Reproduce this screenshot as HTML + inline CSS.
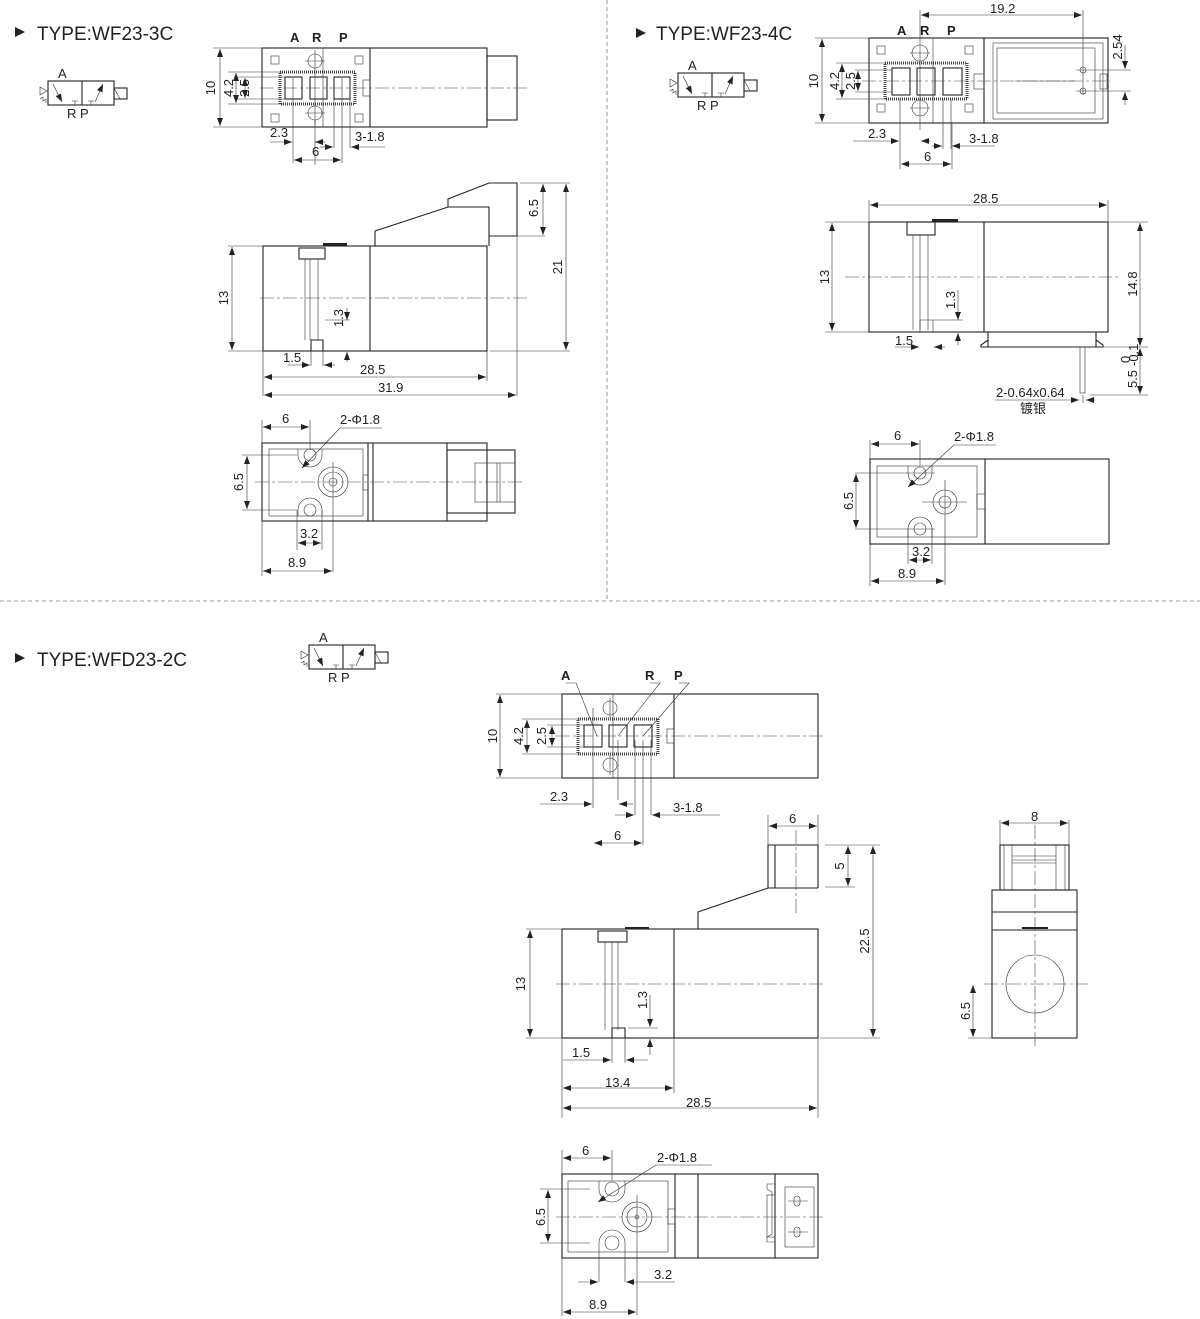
<!DOCTYPE html>
<html><head><meta charset="utf-8"><style>
html,body{margin:0;padding:0;background:#fff}
svg{display:block}
text{font-family:"Liberation Sans","Noto Sans CJK SC",sans-serif;fill:#222;font-size:13px}
.o{fill:none;stroke:#222;stroke-width:1.1}
.t{fill:none;stroke:#333;stroke-width:0.6}
.c{fill:none;stroke:#444;stroke-width:0.6;stroke-dasharray:14 3 3 3}
.d{stroke:#333;stroke-width:0.6;marker-start:url(#a);marker-end:url(#a)}
.h{fill:#fff;stroke:#444;stroke-width:3;stroke-dasharray:1 1}
.ttl{font-size:19px}
.b{font-weight:bold}
</style></head><body>
<svg width="1200" height="1319" viewBox="0 0 1200 1319" xmlns="http://www.w3.org/2000/svg">
<defs>
<marker id="a" viewBox="0 0 8 6" refX="8" refY="3" markerWidth="8" markerHeight="6" orient="auto-start-reverse" markerUnits="userSpaceOnUse"><path d="M0,0L8,3L0,6z" fill="#222"/></marker>
<g id="sym">
<rect x="48" y="81" width="66" height="24" class="o"/>
<line x1="82" y1="81" x2="82" y2="105" class="o"/>
<rect x="114" y="88" width="13" height="11" class="o"/>
<line x1="114" y1="88" x2="120" y2="99" class="t"/>
<line x1="53" y1="84" x2="62" y2="102" class="t" marker-end="url(#a)"/>
<line x1="95" y1="102" x2="103" y2="84" class="t" marker-end="url(#a)"/>
<path d="M72,101h6M75,101v4M88,101h6M91,101v4" class="t"/>
<path d="M40,87l7,4-7,4z" class="t"/>
<path d="M40,99l3,-2 0,4 3,-2 0,4" class="t"/>
<text x="58" y="78" font-size="12">A</text>
<text x="67" y="118" font-size="12">R P</text>
</g>
</defs>

<line x1="607" y1="0" x2="607" y2="600" stroke="#999" stroke-dasharray="4 3"/>
<line x1="0" y1="601" x2="1200" y2="601" stroke="#999" stroke-dasharray="4 3"/>

<path d="M15,27l10,5-10,5z" fill="#222"/>
<text x="37" y="40" class="ttl">TYPE:WF23-3C</text>
<use href="#sym"/>

<rect x="262" y="48" width="225" height="79" class="o"/>
<line x1="370" y1="48" x2="370" y2="127" class="o"/>
<rect x="487" y="56" width="30" height="64" class="o"/>
<rect x="280" y="72" width="75" height="32" class="h"/>
<rect x="285" y="77" width="17" height="22" class="o"/><rect x="310" y="77" width="17" height="22" class="o"/><rect x="334" y="77" width="16" height="22" class="o"/>
<circle cx="315" cy="61" r="7" class="t"/><circle cx="315" cy="113" r="7" class="t"/>
<path d="M305,61h20M305,113h20M315,50v75M323,48v79" class="t"/>
<rect x="271" y="56" width="8" height="8" class="t"/><rect x="355" y="56" width="8" height="8" class="t"/>
<rect x="271" y="114" width="8" height="8" class="t"/><rect x="355" y="114" width="8" height="8" class="t"/>
<rect x="363" y="80" width="7" height="16" class="t"/>
<line x1="260" y1="88" x2="530" y2="88" class="c"/>
<text x="290" y="42" class="b" font-size="12">A</text><text x="312" y="42" class="b" font-size="12">R</text><text x="339" y="42" class="b" font-size="12">P</text>
<path d="M213,48h50M213,127h50M228,72h55M228,104h55M236,77h50M236,99h50" class="t"/>
<line x1="220" y1="49" x2="220" y2="126" class="d"/>
<line x1="236" y1="73" x2="236" y2="103" class="d"/>
<line x1="245" y1="78" x2="245" y2="98" class="d"/>
<text transform="translate(215,88) rotate(-90)" text-anchor="middle">10</text>
<text transform="translate(233,88) rotate(-90)" text-anchor="middle">4.2</text>
<text transform="translate(249,88) rotate(-90)" text-anchor="middle">2.5</text>
<path d="M293,78v85M315,120v45M334,78v70M342,78v85M350,78v70" class="t"/>
<line x1="270" y1="142" x2="292" y2="142" class="t" marker-end="url(#a)"/><line x1="325" y1="142" x2="315" y2="142" class="t" marker-end="url(#a)"/>
<text x="270" y="137">2.3</text>
<line x1="320" y1="147" x2="333" y2="147" class="t" marker-end="url(#a)"/><line x1="385" y1="147" x2="351" y2="147" class="t" marker-end="url(#a)"/>
<text x="355" y="141">3-1.8</text>
<line x1="294" y1="160" x2="341" y2="160" class="d"/><text x="312" y="156">6</text>

<rect x="263" y="246" width="224" height="105" class="o"/>
<line x1="370" y1="246" x2="370" y2="351" class="o"/>
<path d="M375,246V231L448,207H489V246M448,207V199L489,183H517V236H489" class="o"/>
<rect x="299" y="248" width="26" height="11" class="o"/>
<path d="M323,246h24v-3h-24z" fill="#222"/>
<path d="M305,259v81M310,259v81M318,259v81" class="t"/>
<path d="M311,351v-11h12v11" class="o"/>
<line x1="260" y1="298" x2="530" y2="298" class="c"/>
<path d="M228,246h35M228,351h35M520,183h50M490,236h55M490,351h80M263,351v45M487,351v30M517,236v160M311,351v15M323,351v15M325,320h25" class="t"/>
<line x1="232" y1="247" x2="232" y2="350" class="d"/><text transform="translate(228,298) rotate(-90)" text-anchor="middle">13</text>
<line x1="566" y1="184" x2="566" y2="350" class="d"/><text transform="translate(562,267) rotate(-90)" text-anchor="middle">21</text>
<line x1="543" y1="184" x2="543" y2="235" class="d"/><text transform="translate(538,208) rotate(-90)" text-anchor="middle">6.5</text>
<line x1="347" y1="308" x2="347" y2="320" class="t" marker-end="url(#a)"/><line x1="347" y1="362" x2="347" y2="352" class="t" marker-end="url(#a)"/>
<text transform="translate(343,318) rotate(-90)" text-anchor="middle">1.3</text>
<line x1="288" y1="365" x2="310" y2="365" class="t" marker-end="url(#a)"/><line x1="335" y1="365" x2="324" y2="365" class="t" marker-end="url(#a)"/>
<text x="283" y="362">1.5</text>
<line x1="264" y1="377" x2="486" y2="377" class="d"/><text x="360" y="374">28.5</text>
<line x1="264" y1="395" x2="516" y2="395" class="d"/><text x="378" y="392">31.9</text>

<rect x="262" y="443" width="225" height="78" class="o"/>
<path d="M368,443v78M373,443v78M447,443v78" class="o"/>
<rect x="269" y="449" width="94" height="67" class="t"/>
<rect x="447" y="450" width="68" height="63" class="o"/>
<rect x="475" y="463" width="40" height="39" class="t"/>
<path d="M497,463v39M500,463v39" class="t"/>
<rect x="363" y="475" width="5" height="15" class="t"/>
<path d="M298,449v6a12,12 0 0 0 24,0v-6" fill="#fff" class="t"/><circle cx="310" cy="455" r="6" class="t"/>
<path d="M298,516v-6a12,12 0 0 1 24,0v6" fill="#fff" class="t"/><circle cx="310" cy="510" r="6" class="t"/>
<circle cx="333" cy="482" r="15" class="t"/><circle cx="333" cy="482" r="10" class="t"/><circle cx="333" cy="482" r="4" class="t"/>
<line x1="255" y1="482" x2="525" y2="482" class="c"/>
<path d="M262,420v23M310,420v30M242,455h55M242,510h55M297,510v40M322,510v40M333,462v110M262,521v55" class="t"/>
<line x1="263" y1="427" x2="309" y2="427" class="d"/><text x="282" y="423">6</text>
<line x1="340" y1="428" x2="382" y2="428" class="t"/><line x1="340" y1="428" x2="302" y2="468" class="t" marker-end="url(#a)"/>
<text x="340" y="424">2-Φ1.8</text>
<line x1="247" y1="456" x2="247" y2="509" class="d"/><text transform="translate(243,482) rotate(-90)" text-anchor="middle">6.5</text>
<line x1="298" y1="543" x2="321" y2="543" class="d"/><text x="300" y="538">3.2</text>
<line x1="263" y1="571" x2="332" y2="571" class="d"/><text x="288" y="567">8.9</text>

<path d="M636,28l10,5-10,5z" fill="#222"/>
<text x="656" y="40" class="ttl">TYPE:WF23-4C</text>
<use href="#sym" transform="translate(630,-8)"/>

<rect x="869" y="38" width="239" height="85" class="o"/>
<line x1="984" y1="38" x2="984" y2="123" class="o"/>
<rect x="993" y="43" width="110" height="76" class="t"/>
<rect x="997" y="48" width="98" height="65" class="t"/>
<rect x="885" y="63" width="82" height="36" class="h"/>
<rect x="892" y="68" width="18" height="27" class="o"/><rect x="917" y="68" width="18" height="27" class="o"/><rect x="943" y="68" width="19" height="27" class="o"/>
<circle cx="920" cy="53" r="8" class="t"/><circle cx="920" cy="108" r="8" class="t"/>
<path d="M910,53h20M910,108h20M920,10v120M933,38v85M943,99v50M951,99v50" class="t"/>
<rect x="877" y="46" width="8" height="8" class="t"/><rect x="965" y="46" width="8" height="8" class="t"/>
<rect x="877" y="104" width="8" height="8" class="t"/><rect x="965" y="104" width="8" height="8" class="t"/>
<rect x="974" y="74" width="10" height="15" class="t"/>
<rect x="1100" y="74" width="7" height="15" class="t"/>
<circle cx="1083" cy="70" r="3" class="t"/><circle cx="1083" cy="91" r="3" class="t"/>
<path d="M1083,10v85M1076,70h55M1076,91h55M1015,81h60" class="t"/>
<line x1="862" y1="81" x2="1110" y2="81" class="c"/>
<text x="897" y="35" class="b" font-size="12">A</text><text x="920" y="35" class="b" font-size="12">R</text><text x="947" y="35" class="b" font-size="12">P</text>
<line x1="921" y1="15" x2="1082" y2="15" class="d"/><text x="990" y="13">19.2</text>
<line x1="1125" y1="45" x2="1125" y2="69" class="t" marker-end="url(#a)"/><line x1="1125" y1="105" x2="1125" y2="92" class="t" marker-end="url(#a)"/>
<text transform="translate(1122,47) rotate(-90)" text-anchor="middle">2.54</text>
<path d="M815,38h55M815,123h55M836,63h50M836,99h50M855,70h37M855,92h37" class="t"/>
<line x1="822" y1="39" x2="822" y2="122" class="d"/><text transform="translate(818,81) rotate(-90)" text-anchor="middle">10</text>
<line x1="842" y1="64" x2="842" y2="98" class="d"/><text transform="translate(839,81) rotate(-90)" text-anchor="middle">4.2</text>
<line x1="858" y1="71" x2="858" y2="91" class="d"/><text transform="translate(855,81) rotate(-90)" text-anchor="middle">2.5</text>
<path d="M900,99v70M952,123v46" class="t"/>
<line x1="853" y1="141" x2="899" y2="141" class="t" marker-end="url(#a)"/><line x1="930" y1="141" x2="921" y2="141" class="t" marker-end="url(#a)"/>
<text x="868" y="138">2.3</text>
<line x1="932" y1="146" x2="942" y2="146" class="t" marker-end="url(#a)"/><line x1="995" y1="146" x2="952" y2="146" class="t" marker-end="url(#a)"/>
<text x="969" y="143">3-1.8</text>
<line x1="901" y1="164" x2="951" y2="164" class="d"/><text x="924" y="161">6</text>

<rect x="869" y="222" width="239" height="110" class="o"/>
<line x1="984" y1="222" x2="984" y2="332" class="o"/>
<path d="M932,222v-3h26v3z" fill="#222"/>
<rect x="907" y="222" width="28" height="13" class="o"/>
<path d="M913,235v95M920,235v95M928,235v95" class="t"/>
<path d="M920,332v-12h13v12" class="t"/>
<path d="M988,332v15h108v-15M988,340l-7,5v2h7M1096,340l7,5v2h-7" class="o"/>
<rect x="1080" y="347" width="5" height="46" class="t"/>
<line x1="845" y1="277" x2="1120" y2="277" class="c"/>
<path d="M869,200v22M1108,200v22M825,222h44M825,332h44M1108,222h40M1100,347h48M1090,395h58M933,320h30M1083,395v8" class="t"/>
<line x1="870" y1="205" x2="1107" y2="205" class="d"/><text x="973" y="203">28.5</text>
<line x1="832" y1="223" x2="832" y2="331" class="d"/><text transform="translate(829,277) rotate(-90)" text-anchor="middle">13</text>
<line x1="1140" y1="223" x2="1140" y2="346" class="d"/><text transform="translate(1137,284) rotate(-90)" text-anchor="middle">14.8</text>
<line x1="1140" y1="348" x2="1140" y2="394" class="d"/><text transform="translate(1137,379) rotate(-90)" text-anchor="middle">5.5</text>
<text transform="translate(1130,363) rotate(-90)" font-size="8">0</text><text transform="translate(1138,366) rotate(-90)" font-size="8">-0.1</text>
<line x1="958" y1="290" x2="958" y2="320" class="t" marker-end="url(#a)"/><line x1="958" y1="345" x2="958" y2="333" class="t" marker-end="url(#a)"/>
<text transform="translate(955,300) rotate(-90)" text-anchor="middle">1.3</text>
<line x1="895" y1="347" x2="919" y2="347" class="t" marker-end="url(#a)"/><line x1="945" y1="347" x2="934" y2="347" class="t" marker-end="url(#a)"/>
<text x="895" y="345">1.5</text>
<line x1="995" y1="400" x2="1079" y2="400" class="t" marker-end="url(#a)"/><line x1="1095" y1="400" x2="1086" y2="400" class="t" marker-end="url(#a)"/>
<text x="996" y="397">2-0.64x0.64</text>
<text x="1020" y="413" font-size="12">镀银</text>

<rect x="870" y="459" width="239" height="85" class="o"/>
<line x1="985" y1="459" x2="985" y2="544" class="o"/>
<rect x="877" y="466" width="100" height="71" class="t"/>
<rect x="977" y="494" width="8" height="15" class="t"/>
<path d="M908,466v7a12,12 0 0 0 24,0v-7" fill="#fff" class="t"/><circle cx="920" cy="473" r="6" class="t"/>
<path d="M908,537v-8a12,12 0 0 1 24,0v8" fill="#fff" class="t"/><circle cx="920" cy="529" r="6" class="t"/>
<circle cx="945" cy="502" r="12" class="t"/><circle cx="945" cy="502" r="6" class="t"/>
<path d="M922,502h45M945,480v105M855,473h80M855,529h80M870,440v19M920,440v25M908,529v35M932,529v35M870,544v42" class="t"/>
<line x1="871" y1="444" x2="919" y2="444" class="d"/><text x="894" y="440">6</text>
<line x1="954" y1="445" x2="996" y2="445" class="t"/><line x1="954" y1="445" x2="908" y2="487" class="t" marker-end="url(#a)"/>
<text x="954" y="441">2-Φ1.8</text>
<line x1="856" y1="474" x2="856" y2="528" class="d"/><text transform="translate(853,501) rotate(-90)" text-anchor="middle">6.5</text>
<line x1="909" y1="560" x2="931" y2="560" class="d"/><text x="912" y="556">3.2</text>
<line x1="871" y1="581" x2="944" y2="581" class="d"/><text x="898" y="578">8.9</text>

<path d="M15,653l10,5-10,5z" fill="#222"/>
<text x="37" y="666" class="ttl">TYPE:WFD23-2C</text>
<use href="#sym" transform="translate(261,564)"/>

<rect x="562" y="694" width="256" height="84" class="o"/>
<line x1="674" y1="694" x2="674" y2="778" class="o"/>
<rect x="578" y="719" width="80" height="35" class="h"/>
<rect x="584" y="725" width="18" height="22" class="o"/><rect x="609" y="725" width="18" height="22" class="o"/><rect x="634" y="725" width="18" height="22" class="o"/>
<circle cx="610" cy="708" r="7" class="t"/><circle cx="610" cy="765" r="7" class="t"/>
<rect x="667" y="729" width="7" height="14" class="t"/>
<line x1="556" y1="736" x2="826" y2="736" class="c"/>
<path d="M613,694v84M593,708v100M618,740v60M635,740v75M643,740v105M651,740v75M610,698v20M610,755v20" class="t"/>
<text x="561" y="680" class="b" font-size="12">A</text><text x="645" y="680" class="b" font-size="12">R</text><text x="674" y="680" class="b" font-size="12">P</text>
<path d="M566,683h10L597,736M650,683h10L618,736M679,683h10L643,736" class="t"/>
<path d="M496,694h66M496,778h66M522,719h58M522,754h58M547,725h38M547,747h38" class="t"/>
<line x1="500" y1="695" x2="500" y2="777" class="d"/><text transform="translate(497,736) rotate(-90)" text-anchor="middle">10</text>
<line x1="527" y1="720" x2="527" y2="753" class="d"/><text transform="translate(523,736) rotate(-90)" text-anchor="middle">4.2</text>
<line x1="552" y1="726" x2="552" y2="746" class="d"/><text transform="translate(546,736) rotate(-90)" text-anchor="middle">2.5</text>
<line x1="540" y1="804" x2="592" y2="804" class="t" marker-end="url(#a)"/><line x1="633" y1="804" x2="619" y2="804" class="t" marker-end="url(#a)"/>
<text x="550" y="801">2.3</text>
<line x1="615" y1="815" x2="634" y2="815" class="t" marker-end="url(#a)"/><line x1="720" y1="815" x2="652" y2="815" class="t" marker-end="url(#a)"/>
<text x="673" y="812">3-1.8</text>
<line x1="594" y1="843" x2="642" y2="843" class="d"/><text x="614" y="840">6</text>

<rect x="562" y="929" width="256" height="109" class="o"/>
<line x1="674" y1="929" x2="674" y2="1038" class="o"/>
<path d="M698,929V912L768,888H818M768,888V845H818V888M775,845V888" class="o"/>
<rect x="598" y="931" width="29" height="11" class="o"/>
<path d="M625,929v-2h24v2z" fill="#222"/>
<path d="M605,942v88M612,942v88M618,942v88" class="t"/>
<path d="M612,1038v-10h13v10" class="o"/>
<line x1="556" y1="984" x2="826" y2="984" class="c"/>
<line x1="796" y1="830" x2="796" y2="915" class="c"/>
<path d="M526,929h36M526,1038h36M825,845h55M825,887h30M820,1038h60M768,815v30M818,815v30M562,1038v80M674,1038v55M818,1038v80M612,1038v25M625,1038v25M628,1028h30" class="t"/>
<line x1="769" y1="826" x2="817" y2="826" class="d"/><text x="789" y="823">6</text>
<line x1="848" y1="846" x2="848" y2="886" class="d"/><text transform="translate(844,866) rotate(-90)" text-anchor="middle">5</text>
<line x1="873" y1="846" x2="873" y2="1037" class="d"/><text transform="translate(869,941) rotate(-90)" text-anchor="middle">22.5</text>
<line x1="530" y1="930" x2="530" y2="1037" class="d"/><text transform="translate(525,984) rotate(-90)" text-anchor="middle">13</text>
<line x1="650" y1="995" x2="650" y2="1027" class="t" marker-end="url(#a)"/><line x1="650" y1="1055" x2="650" y2="1039" class="t" marker-end="url(#a)"/>
<text transform="translate(647,1000) rotate(-90)" text-anchor="middle">1.3</text>
<line x1="563" y1="1060" x2="611" y2="1060" class="t" marker-end="url(#a)"/><line x1="648" y1="1060" x2="626" y2="1060" class="t" marker-end="url(#a)"/>
<text x="572" y="1057">1.5</text>
<line x1="563" y1="1088" x2="673" y2="1088" class="d"/><text x="605" y="1087">13.4</text>
<line x1="563" y1="1108" x2="817" y2="1108" class="d"/><text x="686" y="1107">28.5</text>

<rect x="992" y="890" width="85" height="148" class="o"/>
<path d="M992,912h85M992,930h85" class="o"/>
<rect x="1000" y="845" width="69" height="45" class="o"/>
<path d="M1004,845v45M1065,845v45M1012,845v45M1056,845v45M1012,856h44M1012,860h44M1012,863h44" class="t"/>
<path d="M1022,928h26" stroke="#222" stroke-width="2"/>
<circle cx="1035" cy="984" r="29" class="t"/>
<line x1="1035" y1="825" x2="1035" y2="1048" class="c"/>
<line x1="984" y1="984" x2="1088" y2="984" class="c"/>
<path d="M1000,820v25M1069,820v25M968,1038h24" class="t"/>
<line x1="1001" y1="823" x2="1068" y2="823" class="d"/><text x="1031" y="821">8</text>
<line x1="973" y1="985" x2="973" y2="1037" class="d"/><text transform="translate(970,1011) rotate(-90)" text-anchor="middle">6.5</text>

<rect x="562" y="1174" width="256" height="84" class="o"/>
<path d="M675,1174v84M698,1174v84M775,1174v84" class="o"/>
<rect x="568" y="1181" width="100" height="71" class="t"/>
<rect x="668" y="1209" width="7" height="15" class="t"/>
<path d="M775,1184h-8v5l5,3v42l-5,3v5h8" class="t"/>
<rect x="767" y="1195" width="8" height="42" class="t"/>
<rect x="785" y="1187" width="29" height="60" class="t"/>
<rect x="794" y="1196" width="6" height="10" rx="3" class="t"/><rect x="794" y="1227" width="6" height="10" rx="3" class="t"/>
<path d="M788,1201h20M788,1232h20" class="t"/>
<path d="M599,1181v8a13,13 0 0 0 26,0v-8" fill="#fff" class="t"/><circle cx="612" cy="1189" r="7" class="t"/>
<path d="M599,1252v-9a13,13 0 0 1 26,0v9" fill="#fff" class="t"/><circle cx="612" cy="1243" r="7" class="t"/>
<circle cx="637" cy="1217" r="15" class="t"/><circle cx="637" cy="1217" r="10" class="t"/><circle cx="637" cy="1217" r="2" class="t"/>
<line x1="556" y1="1217" x2="826" y2="1217" class="c"/>
<path d="M562,1150v24M612,1150v30M540,1189h50M540,1243h50M599,1252v30M625,1252v30M637,1195v120M562,1258v58" class="t"/>
<line x1="563" y1="1158" x2="611" y2="1158" class="d"/><text x="582" y="1155">6</text>
<line x1="656" y1="1165" x2="712" y2="1165" class="t"/><line x1="656" y1="1165" x2="598" y2="1202" class="t" marker-end="url(#a)"/>
<text x="657" y="1162">2-Φ1.8</text>
<line x1="548" y1="1190" x2="548" y2="1242" class="d"/><text transform="translate(545,1217) rotate(-90)" text-anchor="middle">6.5</text>
<line x1="578" y1="1282" x2="598" y2="1282" class="t" marker-end="url(#a)"/><line x1="675" y1="1282" x2="626" y2="1282" class="t" marker-end="url(#a)"/>
<text x="654" y="1279">3.2</text>
<line x1="563" y1="1312" x2="636" y2="1312" class="d"/><text x="589" y="1309">8.9</text>
</svg>
</body></html>
